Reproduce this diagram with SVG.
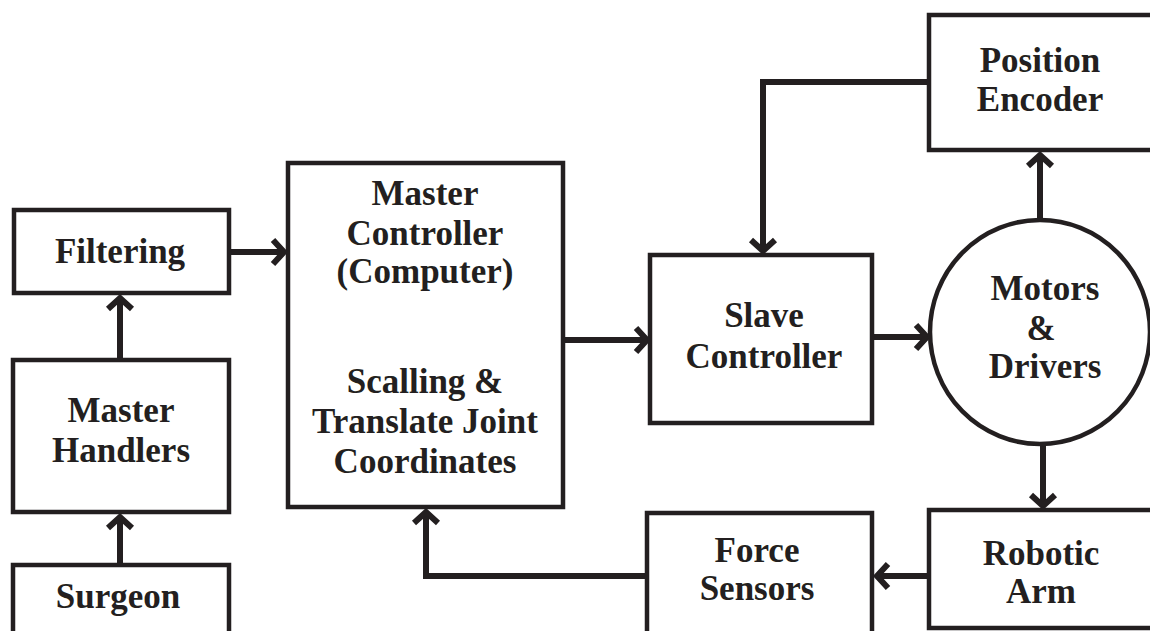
<svg xmlns="http://www.w3.org/2000/svg" width="1150" height="631" viewBox="0 0 1150 631">
<style>
.box{fill:#fff;stroke:#231f20;stroke-width:4.5}
.t{font-family:"Liberation Serif","Times New Roman",serif;font-weight:bold;font-size:35px;fill:#231f20;text-anchor:middle}
.c{fill:none;stroke:#231f20;stroke-width:6;marker-end:url(#ah)}
</style>
<defs>
<marker id="ah" markerUnits="userSpaceOnUse" viewBox="-20 -20 24 40" markerWidth="24" markerHeight="40" refX="0" refY="0" orient="auto">
<path d="M-12,-12 L-1,0 L-12,12" fill="none" stroke="#231f20" stroke-width="6" stroke-linejoin="miter"/>
</marker>
</defs>
<rect width="1150" height="631" fill="#fff"/>
<g id="connectors">
<path class="c" d="M120,565 V516"/>
<path class="c" d="M120,360 V297"/>
<path class="c" d="M229,252 H285"/>
<path class="c" d="M563,340 H648"/>
<path class="c" d="M872,337 H928"/>
<path class="c" d="M1040,220 V154"/>
<path class="c" d="M929,82 H763 V252"/>
<path class="c" d="M1043,444 V507"/>
<path class="c" d="M929,576 H876"/>
<path class="c" d="M647,576 H426 V511"/>
</g>
<g id="filtering"><rect class="box" x="14" y="210" width="215" height="83"/><text class="t" x="120" y="263">Filtering</text></g>
<g id="handlers"><rect class="box" x="13" y="360" width="216" height="152"/><text class="t" x="121" y="422">Master</text><text class="t" x="121" y="462">Handlers</text></g>
<g id="surgeon"><rect class="box" x="13" y="565" width="216" height="80"/><text class="t" x="118" y="608">Surgeon</text></g>
<g id="master"><rect class="box" x="288" y="163" width="275" height="344"/>
<text class="t" x="425" y="205">Master</text><text class="t" x="425" y="245">Controller</text><text class="t" x="425" y="283">(Computer)</text>
<text class="t" x="425" y="393">Scalling &amp;</text><text class="t" x="425" y="433">Translate Joint</text><text class="t" x="425" y="473">Coordinates</text></g>
<g id="slave"><rect class="box" x="650" y="255" width="222" height="168"/><text class="t" x="764" y="327">Slave</text><text class="t" x="764" y="368">Controller</text></g>
<g id="encoder"><rect class="box" x="929" y="15" width="230" height="135"/><text class="t" x="1040" y="72">Position</text><text class="t" x="1040" y="111">Encoder</text></g>
<g id="motors"><ellipse class="box" cx="1040" cy="332" rx="110" ry="112"/><text class="t" x="1045" y="300">Motors</text><text class="t" x="1041" y="340">&amp;</text><text class="t" x="1045" y="378">Drivers</text></g>
<g id="robotic"><rect class="box" x="929" y="510" width="230" height="118"/><text class="t" x="1041" y="565">Robotic</text><text class="t" x="1041" y="603">Arm</text></g>
<g id="force"><rect class="box" x="647" y="513" width="225" height="130"/><text class="t" x="757" y="562">Force</text><text class="t" x="757" y="600">Sensors</text></g>
</svg>
